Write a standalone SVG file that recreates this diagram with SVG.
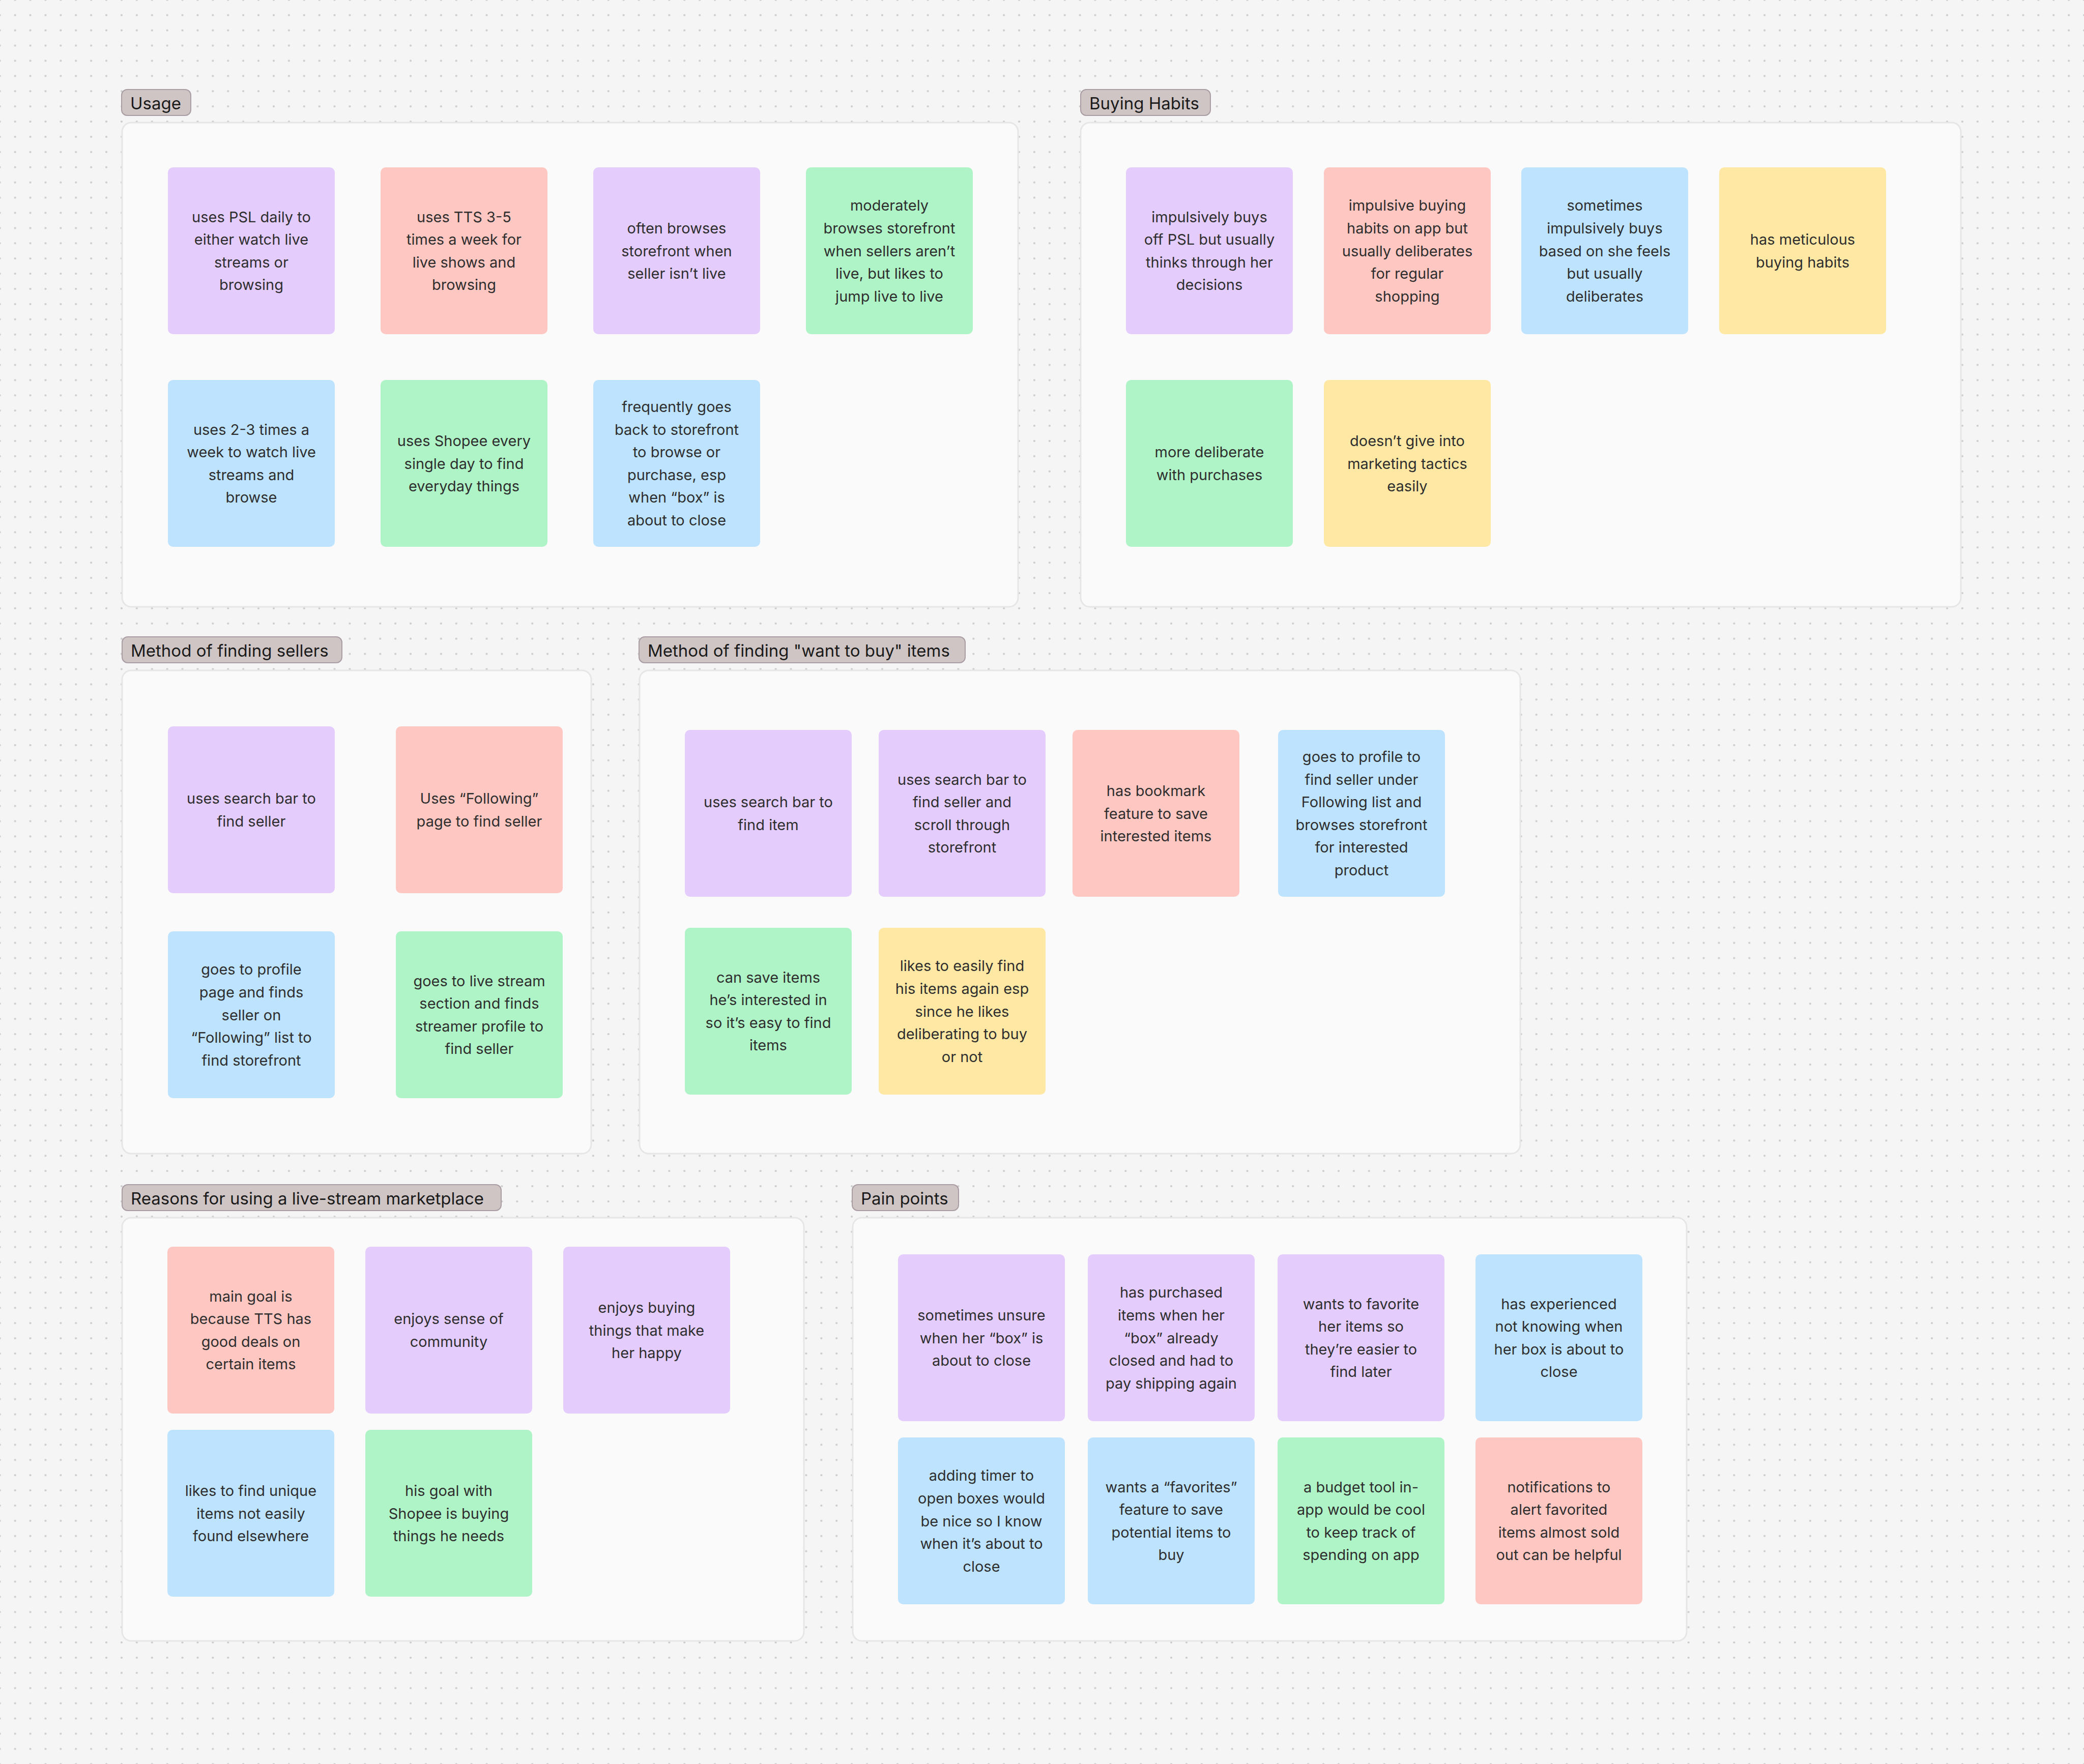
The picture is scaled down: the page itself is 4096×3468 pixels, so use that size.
<svg xmlns="http://www.w3.org/2000/svg" width="4096" height="3468" viewBox="0 0 4096 3468">
<defs>
<pattern id="dots" x="-15.2" y="-15.1" width="29.9" height="29.9" patternUnits="userSpaceOnUse">
<circle cx="14.95" cy="14.95" r="2.1" fill="#cbcbcb"/>
</pattern>
<style>
.panel{fill:#fafafa;stroke:#e6e6e6;stroke-width:3}
.lab{fill:#cfc5c5;stroke:#a99ca3;stroke-width:2}
.labt{font-family:Inter,"Noto Sans",sans-serif;font-size:33px;fill:#1a1a1a}
.n{font-family:Inter,"Noto Sans",sans-serif;font-size:29px;fill:#2e2e2e;text-anchor:middle}
.pu{fill:#e4ccfd}
.pk{fill:#ffc7c2}
.gr{fill:#aff4c6}
.bl{fill:#bde3ff}
.ye{fill:#ffe8a3}
</style>
</defs>
<rect width="4096" height="3468" fill="#f5f5f5"/>
<rect width="4096" height="3468" fill="url(#dots)"/>

<g id="sections">
<rect class="panel" x="240" y="241" width="1761" height="952" rx="18"/>
<rect class="panel" x="2124" y="241" width="1730" height="952" rx="18"/>
<rect class="panel" x="240" y="1318" width="922" height="950" rx="18"/>
<rect class="panel" x="1257" y="1318" width="1731" height="950" rx="18"/>
<rect class="panel" x="240" y="2394" width="1340" height="832" rx="18"/>
<rect class="panel" x="1676" y="2394" width="1639" height="832" rx="18"/>
</g>

<g id="label-usage"><rect class="lab" x="239" y="176" width="136" height="51" rx="11"/><text class="labt" x="256" y="215">Usage</text></g>
<g id="label-buying"><rect class="lab" x="2124" y="176" width="255" height="51" rx="11"/><text class="labt" x="2141" y="215">Buying Habits</text></g>
<g id="label-sellers"><rect class="lab" x="240" y="1252" width="432" height="51" rx="11"/><text class="labt" x="257" y="1291">Method of finding sellers</text></g>
<g id="label-want"><rect class="lab" x="1256" y="1252" width="641" height="51" rx="11"/><text class="labt" x="1273" y="1291">Method of finding "want to buy" items</text></g>
<g id="label-reasons"><rect class="lab" x="240" y="2329" width="745" height="51" rx="11"/><text class="labt" x="257" y="2368">Reasons for using a live-stream marketplace</text></g>
<g id="label-pain"><rect class="lab" x="1675" y="2329" width="209" height="51" rx="11"/><text class="labt" x="1692" y="2368">Pain points</text></g>

<!-- Usage -->
<g id="u1" transform="translate(330,329)"><rect class="pu" width="328" height="328" rx="10"/><text class="n"><tspan x="164" y="107.6">uses PSL daily to</tspan><tspan x="164" y="152.2">either watch live</tspan><tspan x="164" y="196.8">streams or</tspan><tspan x="164" y="241.4">browsing</tspan></text></g>
<g id="u2" transform="translate(748,329)"><rect class="pk" width="328" height="328" rx="10"/><text class="n"><tspan x="164" y="107.6">uses TTS 3-5</tspan><tspan x="164" y="152.2">times a week for</tspan><tspan x="164" y="196.8">live shows and</tspan><tspan x="164" y="241.4">browsing</tspan></text></g>
<g id="u3" transform="translate(1166,329)"><rect class="pu" width="328" height="328" rx="10"/><text class="n"><tspan x="164" y="129.9">often browses</tspan><tspan x="164" y="174.5">storefront when</tspan><tspan x="164" y="219.1">seller isn’t live</tspan></text></g>
<g id="u4" transform="translate(1584,329)"><rect class="gr" width="328" height="328" rx="10"/><text class="n"><tspan x="164" y="85.3">moderately</tspan><tspan x="164" y="129.9">browses storefront</tspan><tspan x="164" y="174.5">when sellers aren’t</tspan><tspan x="164" y="219.1">live, but likes to</tspan><tspan x="164" y="263.7">jump live to live</tspan></text></g>
<g id="u5" transform="translate(330,747)"><rect class="bl" width="328" height="328" rx="10"/><text class="n"><tspan x="164" y="107.6">uses 2-3 times a</tspan><tspan x="164" y="152.2">week to watch live</tspan><tspan x="164" y="196.8">streams and</tspan><tspan x="164" y="241.4">browse</tspan></text></g>
<g id="u6" transform="translate(748,747)"><rect class="gr" width="328" height="328" rx="10"/><text class="n"><tspan x="164" y="129.9">uses Shopee every</tspan><tspan x="164" y="174.5">single day to find</tspan><tspan x="164" y="219.1">everyday things</tspan></text></g>
<g id="u7" transform="translate(1166,747)"><rect class="bl" width="328" height="328" rx="10"/><text class="n"><tspan x="164" y="63">frequently goes</tspan><tspan x="164" y="107.6">back to storefront</tspan><tspan x="164" y="152.2">to browse or</tspan><tspan x="164" y="196.8">purchase, esp</tspan><tspan x="164" y="241.4">when “box” is</tspan><tspan x="164" y="286">about to close</tspan></text></g>

<!-- Buying Habits -->
<g id="b1" transform="translate(2213,329)"><rect class="pu" width="328" height="328" rx="10"/><text class="n"><tspan x="164" y="107.6">impulsively buys</tspan><tspan x="164" y="152.2">off PSL but usually</tspan><tspan x="164" y="196.8">thinks through her</tspan><tspan x="164" y="241.4">decisions</tspan></text></g>
<g id="b2" transform="translate(2602,329)"><rect class="pk" width="328" height="328" rx="10"/><text class="n"><tspan x="164" y="85.3">impulsive buying</tspan><tspan x="164" y="129.9">habits on app but</tspan><tspan x="164" y="174.5">usually deliberates</tspan><tspan x="164" y="219.1">for regular</tspan><tspan x="164" y="263.7">shopping</tspan></text></g>
<g id="b3" transform="translate(2990,329)"><rect class="bl" width="328" height="328" rx="10"/><text class="n"><tspan x="164" y="85.3">sometimes</tspan><tspan x="164" y="129.9">impulsively buys</tspan><tspan x="164" y="174.5">based on she feels</tspan><tspan x="164" y="219.1">but usually</tspan><tspan x="164" y="263.7">deliberates</tspan></text></g>
<g id="b4" transform="translate(3379,329)"><rect class="ye" width="328" height="328" rx="10"/><text class="n"><tspan x="164" y="152.2">has meticulous</tspan><tspan x="164" y="196.8">buying habits</tspan></text></g>
<g id="b5" transform="translate(2213,747)"><rect class="gr" width="328" height="328" rx="10"/><text class="n"><tspan x="164" y="152.2">more deliberate</tspan><tspan x="164" y="196.8">with purchases</tspan></text></g>
<g id="b6" transform="translate(2602,747)"><rect class="ye" width="328" height="328" rx="10"/><text class="n"><tspan x="164" y="129.9">doesn’t give into</tspan><tspan x="164" y="174.5">marketing tactics</tspan><tspan x="164" y="219.1">easily</tspan></text></g>

<!-- Method of finding sellers -->
<g id="s1" transform="translate(330,1428)"><rect class="pu" width="328" height="328" rx="10"/><text class="n"><tspan x="164" y="152.2">uses search bar to</tspan><tspan x="164" y="196.8">find seller</tspan></text></g>
<g id="s2" transform="translate(778,1428)"><rect class="pk" width="328" height="328" rx="10"/><text class="n"><tspan x="164" y="152.2">Uses “Following”</tspan><tspan x="164" y="196.8">page to find seller</tspan></text></g>
<g id="s3" transform="translate(330,1831)"><rect class="bl" width="328" height="328" rx="10"/><text class="n"><tspan x="164" y="85.3">goes to profile</tspan><tspan x="164" y="129.9">page and finds</tspan><tspan x="164" y="174.5">seller on</tspan><tspan x="164" y="219.1">“Following” list to</tspan><tspan x="164" y="263.7">find storefront</tspan></text></g>
<g id="s4" transform="translate(778,1831)"><rect class="gr" width="328" height="328" rx="10"/><text class="n"><tspan x="164" y="107.6">goes to live stream</tspan><tspan x="164" y="152.2">section and finds</tspan><tspan x="164" y="196.8">streamer profile to</tspan><tspan x="164" y="241.4">find seller</tspan></text></g>

<!-- Method of finding want to buy items -->
<g id="w1" transform="translate(1346,1435)"><rect class="pu" width="328" height="328" rx="10"/><text class="n"><tspan x="164" y="152.2">uses search bar to</tspan><tspan x="164" y="196.8">find item</tspan></text></g>
<g id="w2" transform="translate(1727,1435)"><rect class="pu" width="328" height="328" rx="10"/><text class="n"><tspan x="164" y="107.6">uses search bar to</tspan><tspan x="164" y="152.2">find seller and</tspan><tspan x="164" y="196.8">scroll through</tspan><tspan x="164" y="241.4">storefront</tspan></text></g>
<g id="w3" transform="translate(2108,1435)"><rect class="pk" width="328" height="328" rx="10"/><text class="n"><tspan x="164" y="129.9">has bookmark</tspan><tspan x="164" y="174.5">feature to save</tspan><tspan x="164" y="219.1">interested items</tspan></text></g>
<g id="w4" transform="translate(2512,1435)"><rect class="bl" width="328" height="328" rx="10"/><text class="n"><tspan x="164" y="63">goes to profile to</tspan><tspan x="164" y="107.6">find seller under</tspan><tspan x="164" y="152.2">Following list and</tspan><tspan x="164" y="196.8">browses storefront</tspan><tspan x="164" y="241.4">for interested</tspan><tspan x="164" y="286">product</tspan></text></g>
<g id="w5" transform="translate(1346,1824)"><rect class="gr" width="328" height="328" rx="10"/><text class="n"><tspan x="164" y="107.6">can save items</tspan><tspan x="164" y="152.2">he’s interested in</tspan><tspan x="164" y="196.8">so it’s easy to find</tspan><tspan x="164" y="241.4">items</tspan></text></g>
<g id="w6" transform="translate(1727,1824)"><rect class="ye" width="328" height="328" rx="10"/><text class="n"><tspan x="164" y="85.3">likes to easily find</tspan><tspan x="164" y="129.9">his items again esp</tspan><tspan x="164" y="174.5">since he likes</tspan><tspan x="164" y="219.1">deliberating to buy</tspan><tspan x="164" y="263.7">or not</tspan></text></g>

<!-- Reasons -->
<g id="r1" transform="translate(329,2451)"><rect class="pk" width="328" height="328" rx="10"/><text class="n"><tspan x="164" y="107.6">main goal is</tspan><tspan x="164" y="152.2">because TTS has</tspan><tspan x="164" y="196.8">good deals on</tspan><tspan x="164" y="241.4">certain items</tspan></text></g>
<g id="r2" transform="translate(718,2451)"><rect class="pu" width="328" height="328" rx="10"/><text class="n"><tspan x="164" y="152.2">enjoys sense of</tspan><tspan x="164" y="196.8">community</tspan></text></g>
<g id="r3" transform="translate(1107,2451)"><rect class="pu" width="328" height="328" rx="10"/><text class="n"><tspan x="164" y="129.9">enjoys buying</tspan><tspan x="164" y="174.5">things that make</tspan><tspan x="164" y="219.1">her happy</tspan></text></g>
<g id="r4" transform="translate(329,2811)"><rect class="bl" width="328" height="328" rx="10"/><text class="n"><tspan x="164" y="129.9">likes to find unique</tspan><tspan x="164" y="174.5">items not easily</tspan><tspan x="164" y="219.1">found elsewhere</tspan></text></g>
<g id="r5" transform="translate(718,2811)"><rect class="gr" width="328" height="328" rx="10"/><text class="n"><tspan x="164" y="129.9">his goal with</tspan><tspan x="164" y="174.5">Shopee is buying</tspan><tspan x="164" y="219.1">things he needs</tspan></text></g>

<!-- Pain points -->
<g id="p1" transform="translate(1765,2466)"><rect class="pu" width="328" height="328" rx="10"/><text class="n"><tspan x="164" y="129.9">sometimes unsure</tspan><tspan x="164" y="174.5">when her “box” is</tspan><tspan x="164" y="219.1">about to close</tspan></text></g>
<g id="p2" transform="translate(2138,2466)"><rect class="pu" width="328" height="328" rx="10"/><text class="n"><tspan x="164" y="85.3">has purchased</tspan><tspan x="164" y="129.9">items when her</tspan><tspan x="164" y="174.5">“box” already</tspan><tspan x="164" y="219.1">closed and had to</tspan><tspan x="164" y="263.7">pay shipping again</tspan></text></g>
<g id="p3" transform="translate(2511,2466)"><rect class="pu" width="328" height="328" rx="10"/><text class="n"><tspan x="164" y="107.6">wants to favorite</tspan><tspan x="164" y="152.2">her items so</tspan><tspan x="164" y="196.8">they’re easier to</tspan><tspan x="164" y="241.4">find later</tspan></text></g>
<g id="p4" transform="translate(2900,2466)"><rect class="bl" width="328" height="328" rx="10"/><text class="n"><tspan x="164" y="107.6">has experienced</tspan><tspan x="164" y="152.2">not knowing when</tspan><tspan x="164" y="196.8">her box is about to</tspan><tspan x="164" y="241.4">close</tspan></text></g>
<g id="p5" transform="translate(1765,2826)"><rect class="bl" width="328" height="328" rx="10"/><text class="n"><tspan x="164" y="85.3">adding timer to</tspan><tspan x="164" y="129.9">open boxes would</tspan><tspan x="164" y="174.5">be nice so I know</tspan><tspan x="164" y="219.1">when it’s about to</tspan><tspan x="164" y="263.7">close</tspan></text></g>
<g id="p6" transform="translate(2138,2826)"><rect class="bl" width="328" height="328" rx="10"/><text class="n"><tspan x="164" y="107.6">wants a “favorites”</tspan><tspan x="164" y="152.2">feature to save</tspan><tspan x="164" y="196.8">potential items to</tspan><tspan x="164" y="241.4">buy</tspan></text></g>
<g id="p7" transform="translate(2511,2826)"><rect class="gr" width="328" height="328" rx="10"/><text class="n"><tspan x="164" y="107.6">a budget tool in-</tspan><tspan x="164" y="152.2">app would be cool</tspan><tspan x="164" y="196.8">to keep track of</tspan><tspan x="164" y="241.4">spending on app</tspan></text></g>
<g id="p8" transform="translate(2900,2826)"><rect class="pk" width="328" height="328" rx="10"/><text class="n"><tspan x="164" y="107.6">notifications to</tspan><tspan x="164" y="152.2">alert favorited</tspan><tspan x="164" y="196.8">items almost sold</tspan><tspan x="164" y="241.4">out can be helpful</tspan></text></g>

<g id="connectors"/>
</svg>
